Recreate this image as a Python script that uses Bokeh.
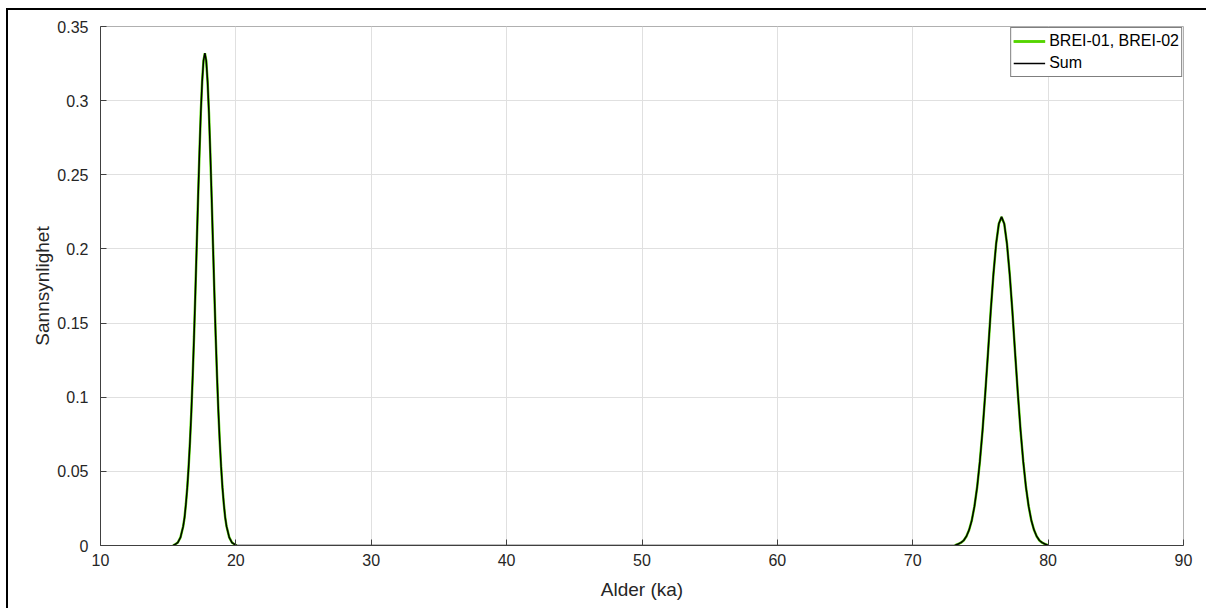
from bokeh.plotting import figure
from bokeh.models import Range1d, FixedTicker, CustomJSTickFormatter, Legend, LegendItem
from bokeh.embed import file_html
from bokeh.resources import INLINE

# Sample BREI-01
brei01_x = [15.36, 15.51, 15.71, 15.91, 16.11, 16.21, 16.31, 16.41, 16.51, 16.61, 16.71,
            16.81, 16.91, 17.01, 17.11, 17.21, 17.31, 17.41, 17.51, 17.61, 17.71,
            17.81, 17.91, 18.01, 18.11, 18.21, 18.31, 18.41, 18.51, 18.61, 18.71,
            18.81, 18.91, 19.01, 19.11, 19.21, 19.31, 19.51, 19.71, 19.91, 20.06]
brei01_y = [0.0, 0.0007, 0.002, 0.0055, 0.013, 0.019, 0.028, 0.039, 0.053, 0.070, 0.090,
            0.114, 0.141, 0.171, 0.203, 0.235, 0.265, 0.292, 0.313, 0.327, 0.332,
            0.327, 0.313, 0.292, 0.265, 0.235, 0.203, 0.171, 0.141, 0.114, 0.090,
            0.070, 0.053, 0.039, 0.028, 0.019, 0.013, 0.0055, 0.002, 0.0007, 0.0]

# Sample BREI-02
brei02_x = [73.11, 73.36, 73.56, 73.76, 73.96, 74.16, 74.36, 74.56, 74.76, 74.96, 75.16,
            75.36, 75.56, 75.76, 75.96, 76.16, 76.36, 76.56,
            76.76, 76.96, 77.16, 77.36, 77.56, 77.76, 77.96, 78.16, 78.36, 78.56,
            78.76, 78.96, 79.16, 79.36, 79.56, 79.76, 80.01]
brei02_y = [0.0, 0.001, 0.0019, 0.0034, 0.0061, 0.0104, 0.0169, 0.0265, 0.0396, 0.0569, 0.078,
            0.103, 0.130, 0.158, 0.183, 0.2035, 0.217, 0.2216,
            0.217, 0.2035, 0.183, 0.158, 0.130, 0.103, 0.078, 0.0569, 0.0396, 0.0265,
            0.0169, 0.0104, 0.0061, 0.0034, 0.0019, 0.001, 0.0]

sum_x = brei01_x + brei02_x
sum_y = brei01_y + brei02_y

x_ticks = [10, 20, 30, 40, 50, 60, 70, 80, 90]
y_ticks = [0, 0.05, 0.1, 0.15, 0.2, 0.25, 0.3, 0.35]

FONT = "Liberation Sans"
TXT = "#262626"
GREEN = "#54d400"

p = figure(width=1200, height=600, output_backend="svg", toolbar_location=None,
           x_range=Range1d(10, 90), y_range=Range1d(0, 0.35),
           min_border_left=92, min_border_right=25, min_border_top=16, min_border_bottom=65,
           background_fill_color="white", border_fill_color="white")

p.styles = {"border-top": "2px solid black", "border-left": "2px solid black",
            "margin-top": "8px", "margin-left": "6px"}

r1 = p.line(brei01_x, brei01_y, line_color=GREEN, line_width=2.5)
r2 = p.line(brei02_x, brei02_y, line_color=GREEN, line_width=2.5)
r3 = p.line(sum_x, sum_y, line_color="black", line_width=1.5)

p.xaxis.ticker = FixedTicker(ticks=x_ticks)
p.yaxis.ticker = FixedTicker(ticks=y_ticks)
p.yaxis.formatter = CustomJSTickFormatter(
    code="return tick.toFixed(2).replace(/0+$/, '').replace(/\\.$/, '');")

for ax in (p.xaxis[0], p.yaxis[0]):
    ax.axis_line_color = "#404040"
    ax.axis_line_width = 1
    ax.major_tick_line_color = "#404040"
    ax.major_tick_in = 6
    ax.major_tick_out = 0
    ax.minor_tick_line_color = None
    ax.major_label_text_font = FONT
    ax.major_label_text_font_size = "16px"
    ax.major_label_text_color = TXT
    ax.axis_label_text_font = FONT
    ax.axis_label_text_font_size = "19px"
    ax.axis_label_text_font_style = "normal"
    ax.axis_label_text_color = TXT

p.xaxis.axis_label = "Alder (ka)"
p.yaxis.axis_label = "Sannsynlighet"
p.yaxis.major_label_standoff = 12
p.xaxis.major_label_standoff = 8
p.yaxis.axis_label_standoff = 1
p.xaxis.axis_label_standoff = 10

p.xgrid.grid_line_color = "#e0e0e0"
p.ygrid.grid_line_color = "#e0e0e0"
p.outline_line_color = "#b0b0b0"
p.outline_line_width = 1

legend = Legend(items=[LegendItem(label="BREI-01, BREI-02", renderers=[r1, r2]),
                       LegendItem(label="Sum", renderers=[r3])],
                location="top_right")
legend.margin = 1
legend.padding = 2
legend.spacing = 0
legend.border_line_color = "black"
legend.border_line_width = 1
legend.background_fill_color = "white"
legend.background_fill_alpha = 1
legend.label_text_font = FONT
legend.label_text_font_size = "16px"
legend.label_text_color = "black"
legend.glyph_width = 32
legend.glyph_height = 22
legend.label_height = 22
legend.label_standoff = 4
p.add_layout(legend)

open("out.html", "w").write(file_html(p, INLINE))
